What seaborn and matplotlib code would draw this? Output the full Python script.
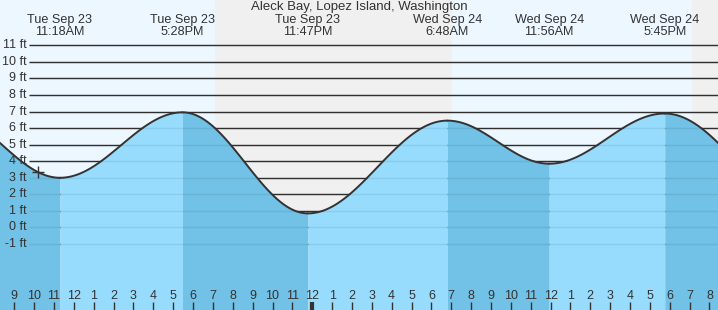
import numpy as np
import pandas as pd
import matplotlib
matplotlib.use("Agg")
import matplotlib.pyplot as plt
import matplotlib.transforms as mtransforms
import seaborn as sns

# ---- data (hours since Tue Sep 23 00:00, feet) ----
ext_times = [5.45, 11.30, 17.47, 23.78, 30.80, 35.93, 41.75, 49.0]
ext_heights = [7.0, 3.0, 6.95, 0.85, 6.45, 3.85, 6.88, 1.0]
ext_days = ["", "Tue Sep 23", "Tue Sep 23", "Tue Sep 23", "Wed Sep 24", "Wed Sep 24", "Wed Sep 24", ""]
ext_clock = ["", "11:18AM", "5:28PM", "11:47PM", "6:48AM", "11:56AM", "5:45PM", ""]
night_spans = [(19.11, 31.05), (43.14, 50.0)]
ft_levels = list(range(-1, 12))
hour_ticks = list(range(9, 45))
now_time, now_height = 10.18, 3.33
title = "Aleck Bay, Lopez Island, Washington"

# ---- style ----
sns.set_style("white")
plt.rcParams["font.family"] = ["Liberation Sans", "DejaVu Sans"]
TXT = "#333333"
BG_DAY = "#ecf7ff"
BG_NIGHT = "#f0f0f0"
FILL_RISE = "#97dcfd"
FILL_FALL = "#72c1e6"

X0, X1 = 8.28, 44.43
Y0, Y1 = -4.985, 13.735

fig = plt.figure(figsize=(7.18, 3.10), dpi=100)
ax = fig.add_axes([0, 0, 1, 1])
ax.set_xlim(X0, X1)
ax.set_ylim(Y0, Y1)
ax.axis("off")

# background day / night
ax.axvspan(X0, X1, color=BG_DAY, zorder=0, lw=0)
for a, b in night_spans:
    ax.axvspan(a, b, color=BG_NIGHT, zorder=0, lw=0)

# tide curve: cosine shape between consecutive extremes
frames = []
for i in range(len(ext_times) - 1):
    t0, t1 = ext_times[i], ext_times[i + 1]
    h0, h1 = ext_heights[i], ext_heights[i + 1]
    tt = np.linspace(t0, t1, 120)
    hh = h1 + (h0 - h1) * (1 + np.cos(np.pi * (tt - t0) / (t1 - t0))) / 2
    frames.append(pd.DataFrame({"t": tt, "h": hh, "seg": i, "falling": h1 < h0}))
curve = pd.concat(frames, ignore_index=True)

# gridlines (dark above water)
gx = mtransforms.blended_transform_factory(ax.transAxes, ax.transData)
for lv in ft_levels:
    ax.plot([29.3 / 718, 1], [lv, lv], transform=gx, color=TXT, lw=1.0, zorder=1,
            solid_capstyle="butt")

# water fill
for i, seg in curve.groupby("seg"):
    col = FILL_FALL if seg["falling"].iloc[0] else FILL_RISE
    ax.fill_between(seg["t"], Y0, seg["h"], color=col, lw=0, zorder=2)

# gridlines under water (subtle)
for lv in ft_levels:
    ax.plot([29.3 / 718, 1], [lv, lv], transform=gx, color="#000000", alpha=0.07,
            lw=1.0, zorder=3, solid_capstyle="butt")

sns.lineplot(data=curve, x="t", y="h", ax=ax, color="#333333", lw=1.4, zorder=4,
             sort=False, estimator=None, units="seg")

# now marker
ax.plot([now_time], [now_height], marker="+", color="#333333", ms=8, mew=1.0, zorder=5)

# y labels
for lv in ft_levels:
    ax.text(26.7 / 718, lv, f"{lv} ft", transform=gx, ha="right", va="center",
            fontsize=9.0, color=TXT, zorder=6)

# hour ticks and labels
xt = ax.get_xaxis_transform()
for h in hour_ticks:
    lab = (h - 1) % 12 + 1
    mid = (h % 24 == 0)
    ax.plot([h, h], [0, 8 / 310], transform=xt, color=TXT, lw=3 if mid else 1.0,
            zorder=6, solid_capstyle="butt")
    ax.text(h, 1 - 296 / 310, str(lab), transform=xt, ha="center", va="center",
            fontsize=9.0, color=TXT, zorder=6)

# title and extreme labels
ax.text(0.5, 1 - 7 / 310, title, transform=ax.transAxes, ha="center", va="center",
        fontsize=9.5, color=TXT, zorder=6)
for t, d, c in zip(ext_times, ext_days, ext_clock):
    if not d:
        continue
    ax.text(t, 1 - 20 / 310, d, transform=xt, ha="center", va="center",
            fontsize=9.1, color=TXT, zorder=6)
    ax.text(t, 1 - 32 / 310, c, transform=xt, ha="center", va="center",
            fontsize=9.1, color=TXT, zorder=6)

fig.savefig("out.png", dpi=100)
